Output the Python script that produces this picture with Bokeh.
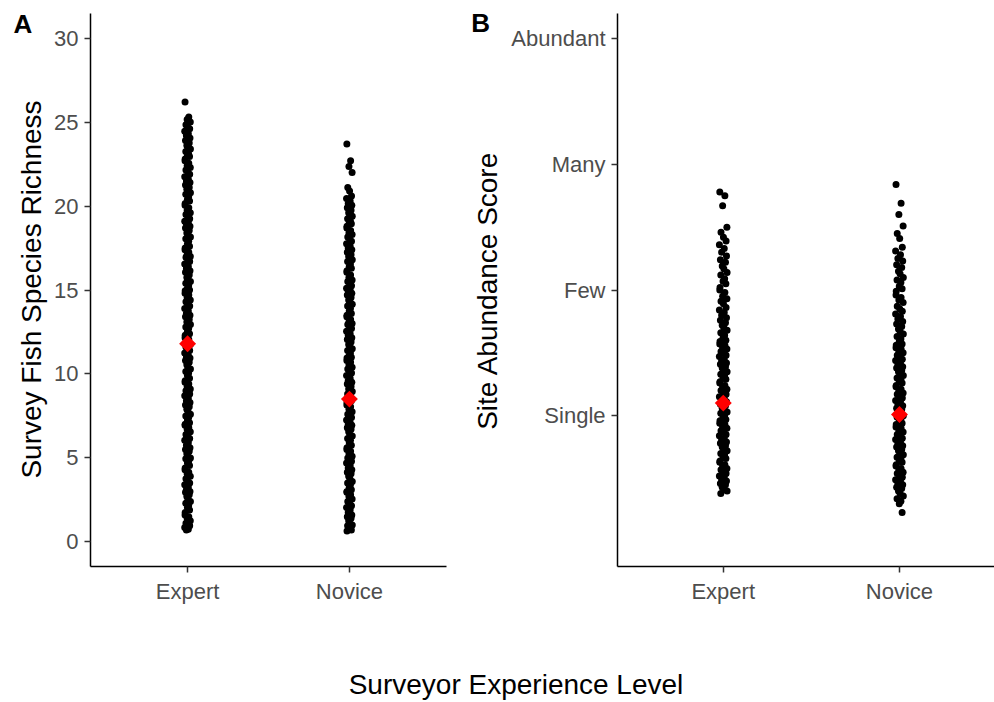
import math

from bokeh.core.properties import value
from bokeh.embed import file_html
from bokeh.layouts import column, row
from bokeh.models import ColumnDataSource, FixedTicker, Range1d
from bokeh.plotting import figure
from bokeh.resources import INLINE

# ---------------------------------------------------------------- data
GROUPS = ["Expert", "Novice"]
SCORE_LABELS = ["Single", "Few", "Many", "Abundant"]      # scores 1..4
RICHNESS_TICKS = [0, 5, 10, 15, 20, 25, 30]

# survey fish species richness (panel A)
richness_expert = [
    26.2, 25.3, 25.15, 25.0, 24.85, 24.7, 24.6, 24.45, 24.3, 24.2, 24.05,
    23.9, 23.75, 23.6, 23.5, 23.4, 23.25, 23.1, 23.0,
    22.95, 22.8, 22.7, 22.55, 22.4, 22.3, 22.15, 22.05,
    21.9, 21.75, 21.6, 21.5, 21.4, 21.25, 21.1, 21.0,
    20.95, 20.8, 20.7, 20.55, 20.4, 20.3, 20.15, 20.05,
    19.9, 19.75, 19.6, 19.5, 19.4, 19.25, 19.1, 19.0,
    18.95, 18.8, 18.7, 18.55, 18.4, 18.3, 18.15, 18.05,
    17.9, 17.75, 17.6, 17.5, 17.4, 17.25, 17.1, 17.0,
    16.95, 16.8, 16.7, 16.55, 16.4, 16.3, 16.15, 16.05,
    15.9, 15.75, 15.6, 15.5, 15.4, 15.25, 15.1, 15.0,
    14.95, 14.8, 14.7, 14.55, 14.4, 14.3, 14.15, 14.05,
    13.9, 13.75, 13.6, 13.5, 13.4, 13.25, 13.1, 13.0,
    12.95, 12.8, 12.7, 12.55, 12.4, 12.3, 12.15, 12.05,
    11.9, 11.75, 11.6, 11.5, 11.4, 11.25, 11.1, 11.0,
    10.95, 10.8, 10.7, 10.55, 10.4, 10.3, 10.15, 10.05,
    9.9, 9.75, 9.6, 9.5, 9.4, 9.25, 9.1, 9.0,
    8.95, 8.8, 8.7, 8.55, 8.4, 8.3, 8.15, 8.05,
    7.9, 7.75, 7.6, 7.5, 7.4, 7.25, 7.1, 7.0,
    6.95, 6.8, 6.7, 6.55, 6.4, 6.3, 6.15, 6.05,
    5.9, 5.75, 5.6, 5.5, 5.4, 5.25, 5.1, 5.0,
    4.95, 4.8, 4.7, 4.55, 4.4, 4.3, 4.15, 4.05,
    3.9, 3.75, 3.6, 3.5, 3.4, 3.25, 3.1, 3.0,
    2.95, 2.8, 2.7, 2.55, 2.4, 2.3, 2.15, 2.05,
    1.9, 1.75, 1.6, 1.5, 1.4, 1.25, 1.1, 1.0,
    0.95, 0.85, 0.75, 0.7,
]
richness_novice = [
    23.7, 22.7, 22.35, 22.0, 21.1, 20.9, 20.6, 20.45, 20.3, 20.15, 20.05,
    19.9, 19.75, 19.6, 19.5, 19.4, 19.25, 19.1, 19.0,
    18.95, 18.8, 18.7, 18.55, 18.4, 18.3, 18.15, 18.05,
    17.9, 17.75, 17.6, 17.5, 17.4, 17.25, 17.1, 17.0,
    16.95, 16.8, 16.7, 16.55, 16.4, 16.3, 16.15, 16.05,
    15.9, 15.75, 15.6, 15.5, 15.4, 15.25, 15.1, 15.0,
    14.95, 14.8, 14.7, 14.55, 14.4, 14.3, 14.15, 14.05,
    13.9, 13.75, 13.6, 13.5, 13.4, 13.25, 13.1, 13.0,
    12.95, 12.8, 12.7, 12.55, 12.4, 12.3, 12.15, 12.05,
    11.9, 11.75, 11.6, 11.5, 11.4, 11.25, 11.1, 11.0,
    10.95, 10.8, 10.7, 10.55, 10.4, 10.3, 10.15, 10.05,
    9.9, 9.75, 9.6, 9.5, 9.4, 9.25, 9.1, 9.0,
    8.95, 8.8, 8.7, 8.55, 8.4, 8.3, 8.15, 8.05,
    7.9, 7.75, 7.6, 7.5, 7.4, 7.25, 7.1, 7.0,
    6.95, 6.8, 6.7, 6.55, 6.4, 6.3, 6.15, 6.05,
    5.9, 5.75, 5.6, 5.5, 5.4, 5.25, 5.1, 5.0,
    4.95, 4.8, 4.7, 4.55, 4.4, 4.3, 4.15, 4.05,
    3.9, 3.75, 3.6, 3.5, 3.4, 3.25, 3.1, 3.0,
    2.95, 2.8, 2.7, 2.55, 2.4, 2.3, 2.15, 2.05,
    1.9, 1.75, 1.6, 1.5, 1.4, 1.25, 1.1, 1.0,
    0.95, 0.85, 0.75, 0.7, 0.65,
]
richness_means = [11.8, 8.5]

# site abundance score (panel B), 1 = Single ... 4 = Abundant
abundance_expert = [
    2.78, 2.75, 2.67, 2.50, 2.46, 2.42, 2.39, 2.36, 2.33, 2.30, 2.27, 2.24,
    2.22, 2.19, 2.17, 2.14, 2.12, 2.09, 2.07, 2.05, 2.02, 2.00, 1.98, 1.95,
    1.93, 1.91, 1.89, 1.86, 1.84, 1.82, 1.80, 1.78, 1.76, 1.74, 1.72, 1.70,
    1.68, 1.66, 1.64, 1.62, 1.60, 1.59, 1.57, 1.56, 1.54, 1.53, 1.51, 1.50,
    1.48, 1.47, 1.45, 1.44, 1.42, 1.41, 1.39, 1.38, 1.36, 1.35, 1.33, 1.32,
    1.30, 1.29, 1.27, 1.26, 1.24, 1.23, 1.21, 1.20, 1.18, 1.17, 1.15, 1.14,
    1.12, 1.11, 1.09, 1.08, 1.06, 1.05, 1.03, 1.02, 1.00, 0.99, 0.97, 0.96,
    0.94, 0.93, 0.91, 0.90, 0.88, 0.87, 0.85, 0.84, 0.82, 0.81, 0.79, 0.78,
    0.76, 0.75, 0.73, 0.72, 0.70, 0.69, 0.67, 0.66, 0.64, 0.63, 0.61, 0.60,
    0.58, 0.57, 0.55, 0.54, 0.52, 0.51, 0.49, 0.48, 0.46, 0.45, 0.43, 0.42,
    0.40, 0.38,
]
abundance_novice = [
    2.84, 2.69, 2.60, 2.51, 2.45, 2.41, 2.34, 2.31, 2.28, 2.25, 2.23, 2.20,
    2.18, 2.15, 2.13, 2.10, 2.08, 2.06, 2.03, 2.01, 1.99, 1.96, 1.94, 1.92,
    1.90, 1.87, 1.85, 1.83, 1.81, 1.79, 1.77, 1.75, 1.73, 1.71, 1.69, 1.67,
    1.65, 1.63, 1.61, 1.59, 1.57, 1.56, 1.54, 1.53, 1.51, 1.50, 1.48, 1.47,
    1.45, 1.44, 1.42, 1.41, 1.39, 1.38, 1.36, 1.35, 1.33, 1.32, 1.30, 1.29,
    1.27, 1.26, 1.24, 1.23, 1.21, 1.20, 1.18, 1.17, 1.15, 1.14, 1.12, 1.11,
    1.09, 1.08, 1.06, 1.05, 1.03, 1.02, 1.00, 0.99, 0.97, 0.96, 0.94, 0.93,
    0.91, 0.90, 0.88, 0.87, 0.85, 0.84, 0.82, 0.81, 0.79, 0.78, 0.76, 0.75,
    0.73, 0.72, 0.70, 0.69, 0.67, 0.66, 0.64, 0.63, 0.61, 0.60, 0.58, 0.57,
    0.55, 0.54, 0.52, 0.51, 0.49, 0.48, 0.46, 0.45, 0.43, 0.42, 0.40, 0.38,
    0.36, 0.34, 0.32, 0.30, 0.23,
]
abundance_means = [1.10, 1.01]

# ---------------------------------------------------------------- style
FONT = "Liberation Sans"
TICK_COLOR = "#4d4d4d"
# fixed horizontal spread pattern for strip points (fraction of the half width)
SPREAD = [-0.85, 0.4, -0.15, 0.9, -0.55, 0.05, 0.7, -0.95, 0.25, -0.4, 0.8,
          -0.7, 0.55, -0.25, 0.15, 0.95, -0.6, 0.35, -0.05, 0.65, -0.8]

TOP_H = 640            # height of the row holding both panels
FRAME_TOP = 13
FRAME_BOTTOM = 74


def strip_source(values, group_index, half_width):
    xs = [group_index + 1 + SPREAD[i % len(SPREAD)] * half_width for i in range(len(values))]
    return ColumnDataSource(dict(x=xs, y=values))


def style_axis(ax):
    ax.axis_line_color = "black"
    ax.axis_line_width = 1.5
    ax.major_tick_line_color = "#333333"
    ax.major_tick_line_width = 1.5
    ax.major_tick_out = 6
    ax.major_tick_in = 0
    ax.minor_tick_out = 0
    ax.minor_tick_in = 0
    ax.major_label_text_font = FONT
    ax.major_label_text_font_size = "22px"
    ax.major_label_text_color = TICK_COLOR
    ax.major_label_standoff = 6


def blank(width, height, top=0, bottom=0):
    """A plain canvas whose coordinates are pixels from its top-left corner."""
    p = figure(width=width, height=height, output_backend="svg", toolbar_location=None,
               title=None, x_range=Range1d(0, width), y_range=Range1d(height - bottom, top),
               x_axis_type=None, y_axis_type=None, min_border_left=0, min_border_right=0,
               min_border_top=top, min_border_bottom=bottom)
    p.grid.visible = False
    p.outline_line_color = None
    p.background_fill_color = "white"
    p.border_fill_color = "white"
    return p


def put_text(p, x, y, text, size, bold=False, angle=0.0, align="left"):
    # (x, y) is the vertical middle of the text line
    p.text(x=[x], y=[y], text=[text], angle=angle, text_font=value(FONT),
           text_font_size=value(size), text_font_style="bold" if bold else "normal",
           text_color="black", text_align=align, text_baseline="middle")


def make_panel(width, left, right, x_end, y_start, y_end):
    p = figure(width=width, height=TOP_H, output_backend="svg", toolbar_location=None,
               title=None, x_range=Range1d(0.4, x_end), y_range=Range1d(y_start, y_end),
               min_border_left=left, min_border_right=right,
               min_border_top=FRAME_TOP, min_border_bottom=FRAME_BOTTOM)
    p.grid.visible = False
    p.outline_line_color = None
    p.background_fill_color = "white"
    p.border_fill_color = "white"
    style_axis(p.xaxis[0])
    style_axis(p.yaxis[0])
    p.xaxis.ticker = FixedTicker(ticks=[1, 2])
    p.xaxis.major_label_overrides = {i + 1: g for i, g in enumerate(GROUPS)}
    return p


def add_strips(p, series, means, half_width):
    for gi, vals in enumerate(series):
        p.scatter("x", "y", source=strip_source(vals, gi, half_width), size=7,
                  fill_color="black", line_color=None)
    p.scatter(x=[i + 1 for i in range(len(means))], y=means, marker="square",
              angle=math.pi / 4, size=12, fill_color="#ff0000", line_color=None)


# ---------------------------------------------------------------- panel A
side_a = blank(50, TOP_H, FRAME_TOP, FRAME_BOTTOM)
put_text(side_a, 13, 23, "A", "26px", bold=True)
put_text(side_a, 30.5, 289, "Survey Fish Species Richness", "28px",
         angle=math.pi / 2, align="center")

pa = make_panel(410, 40, 14, 2.6, -1.47, 31.47)
pa.yaxis.ticker = FixedTicker(ticks=RICHNESS_TICKS)
add_strips(pa, [richness_expert, richness_novice], richness_means, 0.0185)

# ---------------------------------------------------------------- panel B
side_b = blank(48, TOP_H, FRAME_TOP, FRAME_BOTTOM)
put_text(side_b, 10.7, 22.5, "B", "26px", bold=True)
put_text(side_b, 26.5, 290, "Site Abundance Score", "28px",
         angle=math.pi / 2, align="center")

B_SCALE = 176.7        # pixels per category step in panel B
pb = make_panel(486, 108, 0, 0.4 + 378 / B_SCALE, -0.2, 4.2)
pb.yaxis.ticker = FixedTicker(ticks=[1, 2, 3, 4])
pb.yaxis.major_label_overrides = {i + 1: s for i, s in enumerate(SCORE_LABELS)}
add_strips(pb, [abundance_expert, abundance_novice], abundance_means, 0.023)

# ---------------------------------------------------------------- shared x title
FOOT_H = 702 - TOP_H
foot = blank(994, FOOT_H)
put_text(foot, 515.5, 44, "Surveyor Experience Level", "28px", align="center")

layout = column(row(side_a, pa, side_b, pb), foot)
open("out.html", "w").write(file_html(layout, INLINE))
